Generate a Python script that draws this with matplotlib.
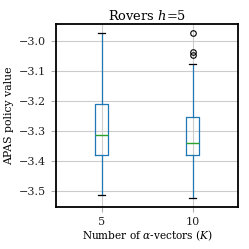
import matplotlib
import matplotlib.pyplot as plt

matplotlib.use("Agg")

# box statistics
labels = ["5", "10"]
medians = [-3.314, -3.339]
q1 = [-3.381, -3.381]
q3 = [-3.211, -3.254]
whislo = [-3.515, -3.526]
whishi = [-2.973, -3.075]
fliers = [[], [-2.972, -3.034, -3.046]]

plt.rcParams["font.family"] = "DejaVu Serif"
plt.rcParams["mathtext.fontset"] = "dejavuserif"

stats = []
for i in range(len(labels)):
    stats.append({
        "label": labels[i], "med": medians[i], "q1": q1[i], "q3": q3[i],
        "whislo": whislo[i], "whishi": whishi[i], "fliers": fliers[i],
    })

fig, ax = plt.subplots(figsize=(2.49, 2.49), dpi=100)
fig.subplots_adjust(left=0.225, right=0.956, top=0.904, bottom=0.169)

ax.bxp(
    stats,
    boxprops=dict(color="C0", linewidth=0.9),
    whiskerprops=dict(color="C0", linewidth=0.9),
    medianprops=dict(color="C2", linewidth=1.0),
    capprops=dict(color="k", linewidth=0.9),
    flierprops=dict(marker="o", markerfacecolor="none", markeredgecolor="k",
                    markersize=4, markeredgewidth=0.8),
)
ax.grid(True, color="#cccccc", linewidth=0.8)
ax.set_axisbelow(True)
ax.set_xlim(0.5, 2.5)
ax.set_ylim(-3.555, -2.941)
ax.set_yticks([-3.5, -3.4, -3.3, -3.2, -3.1, -3.0])
for s in ax.spines.values():
    s.set_color("k")
    s.set_linewidth(1.3)
ax.tick_params(labelsize=8, length=3.5, color="#b0b0b0", labelcolor="#222222")
ax.set_title("Rovers $h$=5", fontsize=9.4, pad=3)
ax.set_ylabel("APAS policy value", fontsize=7.8)
ax.set_xlabel(r"Number of $\alpha$-vectors ($K$)", fontsize=7.6, labelpad=1)

plt.savefig("out.png", dpi=100)
